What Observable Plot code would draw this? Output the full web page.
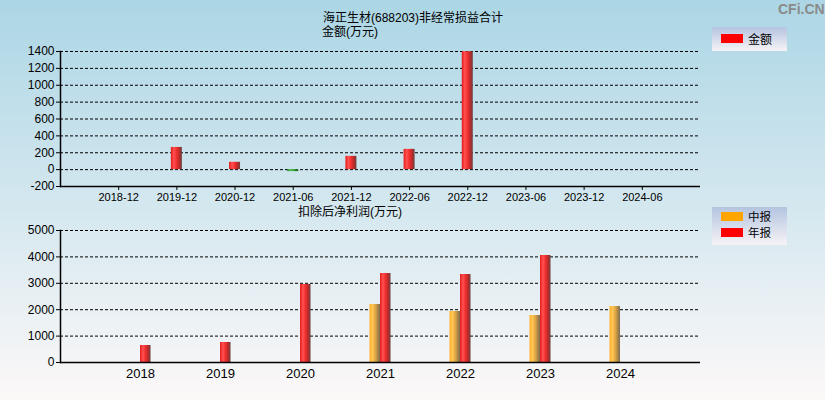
<!DOCTYPE html>
<html><head><meta charset="utf-8">
<script src="https://cdn.jsdelivr.net/npm/d3@7"></script>
<script src="https://cdn.jsdelivr.net/npm/@observablehq/plot@0.6"></script>
<style>
body{margin:0;}
#wrap{position:relative;width:825px;height:400px;overflow:hidden;
  background:linear-gradient(to bottom,#acd6e5 0%,#d3e7ef 50%,#fcf8f8 100%);
  font-family:"Liberation Sans",Arial,"Noto Sans CJK SC",sans-serif;color:#000;}
.abs{position:absolute;}
.ttl{font-size:12px;font-family:"Liberation Sans",Arial,"Noto Sans CJK SC",sans-serif;white-space:nowrap;line-height:14px;}
.leg{background:linear-gradient(to bottom,#b4c4e0,#f6f3f6);}
.sw{position:absolute;width:22px;height:9px;left:9px;}
.lt{position:absolute;left:36px;font-size:12px;line-height:12px;font-family:"Noto Sans CJK SC",sans-serif;}
</style></head><body>
<div id="wrap">
<svg width="0" height="0" style="position:absolute">
 <defs>
  <linearGradient id="gRed" x1="0" x2="1" y1="0" y2="0">
   <stop offset="0" stop-color="#e41a1a"/><stop offset="0.28" stop-color="#ff5252"/>
   <stop offset="0.5" stop-color="#f53030"/><stop offset="0.78" stop-color="#b82a2a"/>
   <stop offset="1" stop-color="#6c4040"/>
  </linearGradient>
  <linearGradient id="gOrange" x1="0" x2="1" y1="0" y2="0">
   <stop offset="0" stop-color="#ffb02a"/><stop offset="0.3" stop-color="#ffc655"/>
   <stop offset="0.6" stop-color="#d8a040"/><stop offset="1" stop-color="#7c6c55"/>
  </linearGradient>
  <linearGradient id="gGreen" x1="0" x2="1" y1="0" y2="0">
   <stop offset="0" stop-color="#1e8a1e"/><stop offset="0.3" stop-color="#5cc85c"/>
   <stop offset="0.7" stop-color="#2a9a2a"/><stop offset="1" stop-color="#2a5a2a"/>
  </linearGradient>
 </defs>
</svg>
<div id="top" class="abs" style="left:0;top:0"></div>
<div id="bot" class="abs" style="left:0;top:205px"></div>
<div class="abs ttl" style="left:323px;top:11px">海正生材(688203)非经常损益合计</div>
<div class="abs ttl" style="left:322px;top:25px">金额(万元)</div>
<div class="abs ttl" style="left:298px;top:205px">扣除后净利润(万元)</div>
<div class="abs" style="left:778px;top:1px;font-size:14px;font-weight:bold;color:#8a8a8a;font-family:'Liberation Sans',Arial,sans-serif">CFi.CN</div>
<div class="abs leg" style="left:712px;top:27px;width:75px;height:24px">
 <div class="sw" style="top:7px;background:#ff0000"></div><div class="lt" style="top:6px">金额</div>
</div>
<div class="abs leg" style="left:712px;top:207px;width:75px;height:38px">
 <div class="sw" style="top:5px;background:#ffa500"></div><div class="lt" style="top:4px;font-size:11.5px;line-height:11.5px">中报</div>
 <div class="sw" style="top:21px;background:#ff0000"></div><div class="lt" style="top:20px;font-size:11.5px;line-height:11.5px">年报</div>
</div>
</div>
<script>
// ---- data ----
const topCats = ["2018-12","2019-12","2020-12","2021-06","2021-12","2022-06","2022-12","2023-06","2023-12","2024-06"];
const topValues = [null, 263, 87, -24, 157, 240, 1397, null, null, null];
const topTicks = [-200, 0, 200, 400, 600, 800, 1000, 1200, 1400];

const botYears = ["2018","2019","2020","2021","2022","2023","2024"];
const midValues = [null, null, null, 2197, 1932, 1780, 2121];   // 中报
const annValues = [644, 758, 2955, 3371, 3333, 4053, null];     // 年报
const botTicks = [0, 1000, 2000, 3000, 4000, 5000];

const font = "'Liberation Sans', Arial, sans-serif";
const plain = d => String(d);

// ---- top chart ----
const topData = topCats.map((c, i) => ({c, v: topValues[i]})).filter(d => d.v != null);
const topPlot = Plot.plot({
  width: 825, height: 205,
  marginLeft: 60, marginRight: 125, marginTop: 51, marginBottom: 19,
  style: {background: "transparent", overflow: "visible", fontSize: "12px", fontFamily: font, color: "#000"},
  x: {type: "band", domain: topCats, paddingInner: 0.811, paddingOuter: 0.9055, align: 0.5, round: false},
  y: {domain: [-200, 1400]},
  marks: [
    Plot.ruleY(topTicks.filter(t => t > -200), {stroke: "#000", strokeDasharray: "3,2"}),
    Plot.barY(topData.filter(d => d.v >= 0), {x: "c", y: "v", fill: "url(#gRed)"}),
    Plot.barY(topData.filter(d => d.v < 0), {x: "c", y: "v", fill: "url(#gGreen)"}),
    Plot.ruleY([-200], {stroke: "#000", strokeWidth: 1.5}),
    Plot.frame({anchor: "left", stroke: "#000", strokeWidth: 1.5}),
    Plot.axisY({ticks: topTicks, tickFormat: plain, tickSize: 4, tickPadding: 2, label: null, fontSize: 12}),
    Plot.axisX({tickSize: 4, tickPadding: 3, label: null, fontSize: 11})
  ]
});
document.getElementById("top").appendChild(topPlot);

// ---- bottom chart ----
const midData = botYears.map((y, i) => ({y, v: midValues[i]})).filter(d => d.v != null);
const annData = botYears.map((y, i) => ({y, v: annValues[i]})).filter(d => d.v != null);
const botPlot = Plot.plot({
  width: 825, height: 195,
  marginLeft: 60, marginRight: 125, marginTop: 25, marginBottom: 38,
  style: {background: "transparent", overflow: "visible", fontSize: "12px", fontFamily: font, color: "#000"},
  x: {type: "band", domain: botYears, paddingInner: 0.7375, paddingOuter: 0.86875, align: 0.5, round: false},
  y: {domain: [0, 5000]},
  marks: [
    Plot.ruleY(botTicks.filter(t => t > 0), {stroke: "#000", strokeDasharray: "3,2"}),
    Plot.barY(midData, {x: "y", y: "v", fill: "url(#gOrange)", insetRight: 10.5}),
    Plot.barY(annData, {x: "y", y: "v", fill: "url(#gRed)", insetLeft: 10.5}),
    Plot.ruleY([0], {stroke: "#000", strokeWidth: 1.5}),
    Plot.frame({anchor: "left", stroke: "#000", strokeWidth: 1.5}),
    Plot.axisY({ticks: botTicks, tickFormat: plain, tickSize: 4, tickPadding: 2, label: null, fontSize: 12}),
    Plot.axisX({tickSize: 0, tickPadding: 6, label: null, fontSize: 13})
  ]
});
document.getElementById("bot").appendChild(botPlot);
</script>
</body></html>
